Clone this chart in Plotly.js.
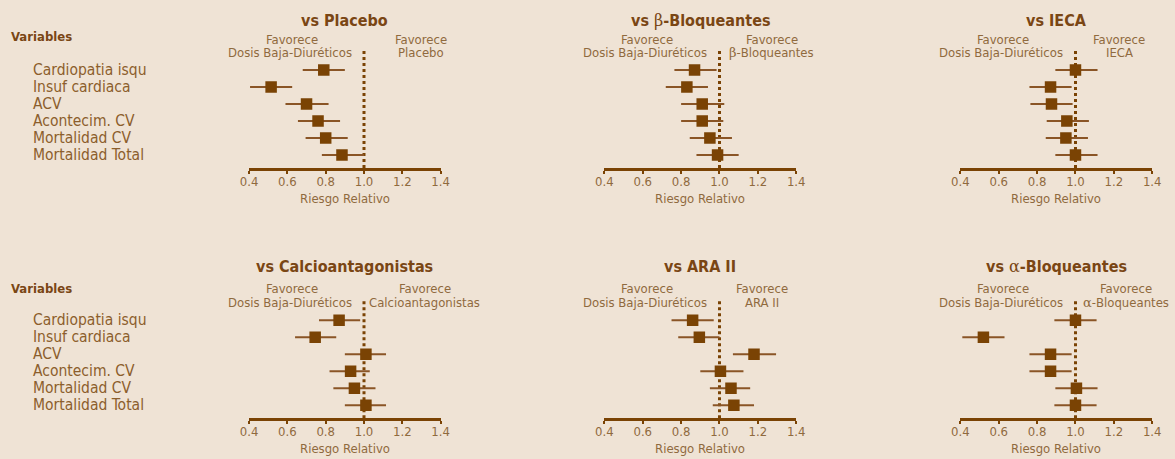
<!DOCTYPE html>
<html>
<head>
<meta charset="utf-8">
<script src="https://cdn.plot.ly/plotly-3.0.1.min.js"></script>
<style>
html,body{margin:0;padding:0;background:#EFE3D5;}
#chart{width:1175px;height:459px;}
</style>
</head>
<body>
<div id="chart"></div>
<script>
// ---------- DATA ----------
const categories = ['Cardiopatia isqu', 'Insuf cardiaca', 'ACV', 'Acontecim. CV', 'Mortalidad CV', 'Mortalidad Total'];

const placeboRR = [0.79, 0.515, 0.70, 0.76, 0.80, 0.885];
const placeboLo = [0.68, 0.405, 0.59, 0.655, 0.695, 0.78];
const placeboHi = [0.90, 0.625, 0.815, 0.875, 0.915, 1.00];

const betaRR = [0.87, 0.83, 0.91, 0.91, 0.95, 0.99];
const betaLo = [0.765, 0.72, 0.80, 0.80, 0.845, 0.88];
const betaHi = [0.985, 0.94, 1.025, 1.02, 1.065, 1.10];

const iecaRR = [1.00, 0.87, 0.875, 0.955, 0.95, 1.00];
const iecaLo = [0.895, 0.76, 0.765, 0.85, 0.845, 0.895];
const iecaHi = [1.115, 0.98, 0.985, 1.07, 1.065, 1.115];

const calcioRR = [0.87, 0.745, 1.01, 0.93, 0.95, 1.01];
const calcioLo = [0.765, 0.64, 0.90, 0.82, 0.84, 0.90];
const calcioHi = [0.98, 0.855, 1.115, 1.03, 1.06, 1.115];

const araRR = [0.86, 0.895, 1.18, 1.005, 1.06, 1.075];
const araLo = [0.75, 0.785, 1.07, 0.90, 0.95, 0.965];
const araHi = [0.97, 1.00, 1.295, 1.125, 1.16, 1.18];

const alfaRR = [1.00, 0.52, 0.87, 0.87, 1.005, 1.00];
const alfaLo = [0.89, 0.41, 0.76, 0.76, 0.895, 0.89];
const alfaHi = [1.11, 0.63, 0.98, 0.98, 1.115, 1.11];

const tickVals = [0.4, 0.6, 0.8, 1.0, 1.2, 1.4];
const tickText = ['0.4', '0.6', '0.8', '1.0', '1.2', '1.4'];

const greek = s => '<span style="font-family:\'DejaVu Serif\',serif;font-weight:normal">' + s + '</span>';
const panelTitles = ['vs Placebo', 'vs ' + greek('β') + '-Bloqueantes', 'vs IECA',
                     'vs Calcioantagonistas', 'vs ARA II', 'vs ' + greek('α') + '-Bloqueantes'];
const rightLabels = ['Placebo', greek('β') + '-Bloqueantes', 'IECA',
                     'Calcioantagonistas', 'ARA II', greek('α') + '-Bloqueantes'];
const leftLabel1 = 'Favorece';
const leftLabel2 = 'Dosis Baja-Diuréticos';
const rightLabelX = [1.296, 1.272, 1.228, 1.318, 1.22, 1.265];
const xTitle = 'Riesgo Relativo';
const varsTitle = 'Variables';

// ---------- STYLE ----------
const BG = '#EFE3D5';
const DARK = '#7A4304';
const ERR = '#8A5526';
const TITLEC = '#7A4614';
const LIGHT = '#8F6A3E';
const LABELC = '#8C5E2C';
const FONT = "'Liberation Sans Narrow', 'DejaVu Sans Condensed', 'Liberation Sans', sans-serif";

const W = 1175, H = 459;
const colPx = [[249, 440.7], [604.3, 796.3], [960.3, 1152.3]];
const rowPx = [[48, 168], [298.3, 418.3]];   // top, bottom (axis line)
const yRange = [-0.765, 6.294];
const catOrder = categories.slice().reverse();

const panels = [
  [placeboRR, placeboLo, placeboHi],
  [betaRR, betaLo, betaHi],
  [iecaRR, iecaLo, iecaHi],
  [calcioRR, calcioLo, calcioHi],
  [araRR, araLo, araHi],
  [alfaRR, alfaLo, alfaHi]
];

const traces = [];
const layout = {
  width: W, height: H,
  margin: {l: 0, r: 0, t: 0, b: 0},
  paper_bgcolor: BG, plot_bgcolor: BG,
  showlegend: false,
  font: {family: FONT, color: LIGHT},
  annotations: [], shapes: []
};

const pyTop = py => (H - py) / H;

panels.forEach((p, i) => {
  const n = i + 1;
  const col = i % 3, row = Math.floor(i / 3);
  const xa = 'x' + (n === 1 ? '' : n), ya = 'y' + (n === 1 ? '' : n);
  const [rr, lo, hi] = p;
  traces.push({
    type: 'scatter', mode: 'markers',
    x: rr, y: categories,
    xaxis: xa, yaxis: ya,
    marker: {symbol: 'square', size: 11.5, color: DARK, line: {width: 0}},
    error_x: {
      type: 'data', symmetric: false,
      array: rr.map((v, k) => hi[k] - v),
      arrayminus: rr.map((v, k) => v - lo[k]),
      color: ERR, thickness: 2, width: 0
    },
    hoverinfo: 'x+y'
  });
  const xKey = 'xaxis' + (n === 1 ? '' : n), yKey = 'yaxis' + (n === 1 ? '' : n);
  layout[xKey] = {
    domain: [colPx[col][0] / W, colPx[col][1] / W],
    anchor: ya, range: [0.3995, 1.4005],
    showgrid: false, zeroline: false,
    showline: true, linewidth: 3, linecolor: DARK,
    ticks: 'outside', ticklen: 3, tickwidth: 2, tickcolor: DARK,
    ticklabelstandoff: -4,
    tickvals: tickVals, ticktext: tickText,
    tickfont: {family: FONT, size: 13, color: LIGHT},
    fixedrange: true
  };
  layout[yKey] = {
    domain: [pyTop(rowPx[row][1]), pyTop(rowPx[row][0])],
    anchor: xa, type: 'category', categoryarray: catOrder,
    range: yRange,
    showgrid: false, zeroline: false, showline: false,
    showticklabels: false, ticks: '',
    fixedrange: true
  };
  // reference line at RR = 1
  layout.shapes.push({
    type: 'line', xref: xa, yref: ya + ' domain',
    x0: 1, x1: 1, y0: 0, y1: 1,
    line: {color: DARK, width: 3, dash: 'dot'}, layer: 'below'
  });
  const titleY = row === 0 ? 20 : 267;
  const fav1Y = row === 0 ? 40 : 288.5;
  const fav2Y = row === 0 ? 52.5 : 302;
  const rtY = row === 0 ? 198.3 : 448.3;
  layout.annotations.push(
    {xref: xa + ' domain', yref: 'paper', x: 0.5, y: pyTop(titleY), xanchor: 'center', yanchor: 'middle',
     text: '<b>' + panelTitles[i] + '</b>', showarrow: false, font: {family: FONT, size: 16, color: TITLEC}},
    {xref: xa, yref: 'paper', x: 1, xshift: -72.5, y: pyTop(fav1Y), xanchor: 'center', yanchor: 'middle',
     text: leftLabel1, showarrow: false, font: {family: FONT, size: 13, color: LIGHT}},
    {xref: xa, yref: 'paper', x: 1, xshift: -10, y: pyTop(fav2Y), xanchor: 'right', yanchor: 'middle',
     text: leftLabel2, showarrow: false, font: {family: FONT, size: 13, color: LIGHT}},
    {xref: xa, yref: 'paper', x: rightLabelX[i], y: pyTop(fav1Y), xanchor: 'center', yanchor: 'middle',
     text: leftLabel1, showarrow: false, font: {family: FONT, size: 13, color: LIGHT}},
    {xref: xa, yref: 'paper', x: rightLabelX[i], y: pyTop(fav2Y), xanchor: 'center', yanchor: 'middle',
     text: rightLabels[i], showarrow: false, font: {family: FONT, size: 13, color: LIGHT}},
    {xref: xa + ' domain', yref: 'paper', x: 0.5, y: pyTop(rtY), xanchor: 'center', yanchor: 'middle',
     text: xTitle, showarrow: false, font: {family: FONT, size: 13, color: LIGHT}}
  );
});

// "Variables" headers and category labels
[['y', 37], ['y4', 288]].forEach(([ya, vy]) => {
  layout.annotations.push({
    xref: 'paper', yref: 'paper', x: 9 / W, y: pyTop(vy), xanchor: 'left', yanchor: 'middle',
    text: '<b>' + varsTitle + '</b>', showarrow: false, font: {family: FONT, size: 13, color: TITLEC}
  });
  categories.forEach(c => {
    layout.annotations.push({
      xref: 'paper', yref: ya, x: 31 / W, y: c, xanchor: 'left', yanchor: 'middle',
      text: c, showarrow: false, font: {family: FONT, size: 15.5, color: LABELC}
    });
  });
});

Plotly.newPlot('chart', traces, layout, {displayModeBar: false, staticPlot: false});
</script>
</body>
</html>
